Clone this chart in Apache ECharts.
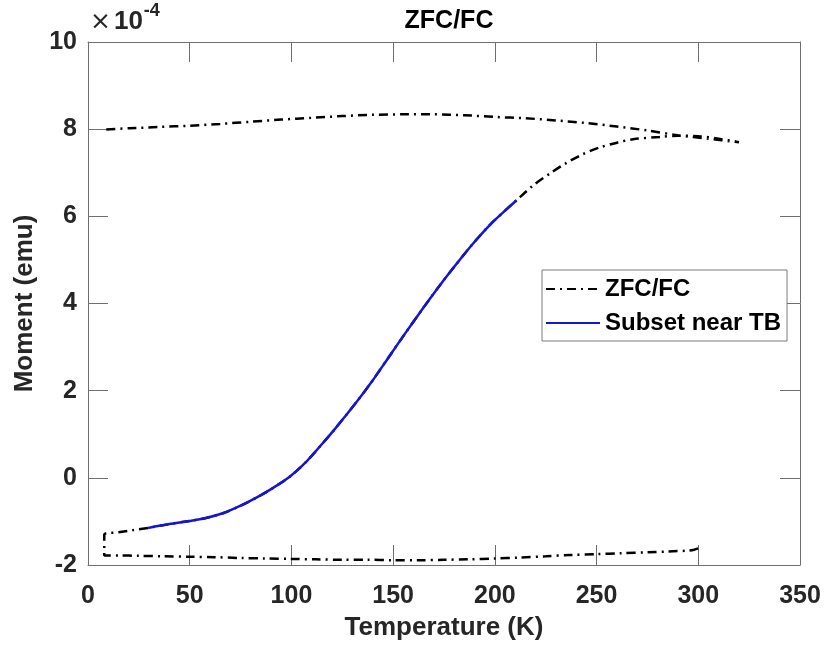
<!DOCTYPE html>
<html>
<head>
<meta charset="utf-8">
<script src="https://cdn.jsdelivr.net/npm/echarts@6/dist/echarts.min.js"></script>
<style>
  html, body { margin: 0; padding: 0; background: #fff; }
  #chart { width: 827px; height: 653px; }
</style>
</head>
<body>
<div id="chart"></div>
<script>
// moment values are in units of 1e-4 emu (the axis shows the x10^-4 multiplier)

// first cooling in zero field, 300 K -> 8 K
const coolTemp = [300, 298, 295, 285, 275, 262, 250, 237, 225, 212, 200, 187, 175, 162, 150, 137, 125, 112, 100, 87, 75, 62, 50, 37, 25, 15, 8];
const coolMoment = [-1.62, -1.65, -1.67, -1.69, -1.71, -1.73, -1.75, -1.77, -1.80, -1.83, -1.85, -1.87, -1.88, -1.89, -1.89, -1.88, -1.88, -1.87, -1.86, -1.85, -1.84, -1.82, -1.81, -1.80, -1.79, -1.78, -1.78];

// ZFC warming, 8 K -> 320 K
const zfcTemp = [8, 15, 22, 29.5, 40, 50, 58, 67, 75, 83, 91, 99, 107.5, 115.5, 121, 132, 140, 148, 156, 164.5, 173, 181, 189, 197.5, 205, 210.7, 218.6, 227, 235, 243, 251.5, 260, 268, 281, 290, 300, 310, 320];
const zfcMoment = [-1.30, -1.25, -1.20, -1.15, -1.06, -0.99, -0.92, -0.80, -0.64, -0.45, -0.23, 0.02, 0.38, 0.80, 1.10, 1.74, 2.24, 2.78, 3.32, 3.88, 4.42, 4.90, 5.36, 5.80, 6.13, 6.37, 6.70, 6.98, 7.22, 7.42, 7.58, 7.69, 7.77, 7.82, 7.85, 7.84, 7.78, 7.70];

// FC cooling, 320 K -> 8 K
const fcTemp = [320, 305, 290, 275, 260, 245, 230, 215, 200, 185, 170, 155, 140, 125, 110, 95, 80, 65, 50, 35, 20, 8];
const fcMoment = [7.70, 7.78, 7.86, 7.97, 8.06, 8.14, 8.20, 8.25, 8.28, 8.32, 8.34, 8.34, 8.33, 8.30, 8.26, 8.22, 8.17, 8.12, 8.08, 8.05, 8.02, 7.99];

// the window around the blocking temperature that is highlighted
const subsetRange = [29, 211];

const xTicks = { min: 0, max: 350, interval: 50 };
const yTicks = { min: -2, max: 10, interval: 2 };

const allData = [];
coolTemp.forEach((t, i) => allData.push([t, coolMoment[i]]));
zfcTemp.forEach((t, i) => allData.push([t, zfcMoment[i]]));
fcTemp.forEach((t, i) => allData.push([t, fcMoment[i]]));

const subsetData = [];
zfcTemp.forEach((t, i) => {
  if (t >= subsetRange[0] && t <= subsetRange[1]) subsetData.push([t, zfcMoment[i]]);
});

const FONT = 'Liberation Sans';
const TXT = '#262626';
const AX = '#6e6e6e';

const chart = echarts.init(document.getElementById('chart'));

const baseAxis = (extra) => Object.assign({
  type: 'value',
  axisLine: { show: true, onZero: false, lineStyle: { color: AX, width: 1 } },
  axisTick: { show: true, inside: true, length: 20, lineStyle: { color: AX, width: 1 } },
  splitLine: { show: false },
}, extra);

chart.setOption({
  animation: false,
  backgroundColor: '#fff',
  title: {
    text: 'ZFC/FC',
    left: 444,
    top: 4,
    textAlign: 'center',
    textStyle: { fontFamily: FONT, fontWeight: 'bold', fontSize: 25, color: '#000' }
  },
  grid: {
    left: 88, right: 27, top: 42, bottom: 88,
    containLabel: false,
    outerBoundsMode: 'none'
  },
  legend: {
    orient: 'vertical',
    left: 542,
    top: 270,
    padding: [7, 6, 6, 3],
    itemWidth: 54,
    itemHeight: 14,
    itemGap: 10,
    backgroundColor: '#fff',
    borderColor: '#7a7a7a',
    borderWidth: 1,
    itemStyle: { opacity: 0 },
    textStyle: { fontFamily: FONT, fontWeight: 'bold', fontSize: 24, color: '#000', lineHeight: 24 },
    data: ['ZFC/FC', 'Subset near TB']
  },
  graphic: [{
    type: 'text',
    left: 90,
    top: 2,
    style: {
      text: '{a|×}{b|10}{c|-4}',
      rich: {
        a: { fontFamily: 'DejaVu Sans', fontSize: 25, fill: TXT, verticalAlign: 'bottom', padding: [0, 3, 0, 0] },
        b: { fontFamily: FONT, fontWeight: 'bold', fontSize: 26, fill: TXT, verticalAlign: 'bottom' },
        c: { fontFamily: FONT, fontWeight: 'bold', fontSize: 18, fill: TXT, verticalAlign: 'top', padding: [0, 0, 15, 1] }
      }
    }
  }],
  xAxis: [
    baseAxis({
      position: 'bottom',
      min: xTicks.min, max: xTicks.max, interval: xTicks.interval,
      name: 'Temperature (K)',
      nameLocation: 'middle',
      nameGap: 50,
      nameTextStyle: { fontFamily: FONT, fontWeight: 'bold', fontSize: 26, color: TXT },
      axisLabel: { margin: 19, fontFamily: FONT, fontWeight: 'bold', fontSize: 25, color: TXT }
    }),
    baseAxis({
      position: 'top',
      min: xTicks.min, max: xTicks.max, interval: xTicks.interval,
      axisLabel: { show: false }
    })
  ],
  yAxis: [
    baseAxis({
      position: 'left',
      min: yTicks.min, max: yTicks.max, interval: yTicks.interval,
      name: 'Moment (emu)',
      nameLocation: 'middle',
      nameGap: 44,
      nameTextStyle: { fontFamily: FONT, fontWeight: 'bold', fontSize: 26, color: TXT },
      axisLabel: { margin: 11, fontFamily: FONT, fontWeight: 'bold', fontSize: 25, color: TXT }
    }),
    baseAxis({
      position: 'right',
      min: yTicks.min, max: yTicks.max, interval: yTicks.interval,
      axisLabel: { show: false }
    })
  ],
  series: [
    {
      name: 'ZFC/FC',
      type: 'line',
      data: allData,
      showSymbol: false,
      symbol: 'none',
      smooth: 0.3,
      color: '#000',
      lineStyle: { color: '#000', width: 2.5, type: [9, 5, 2, 5] }
    },
    {
      name: 'Subset near TB',
      type: 'line',
      data: subsetData,
      showSymbol: false,
      symbol: 'none',
      smooth: 0.3,
      color: '#1515d8',
      lineStyle: { color: '#1515d8', width: 2.5 }
    }
  ]
});
</script>
</body>
</html>
